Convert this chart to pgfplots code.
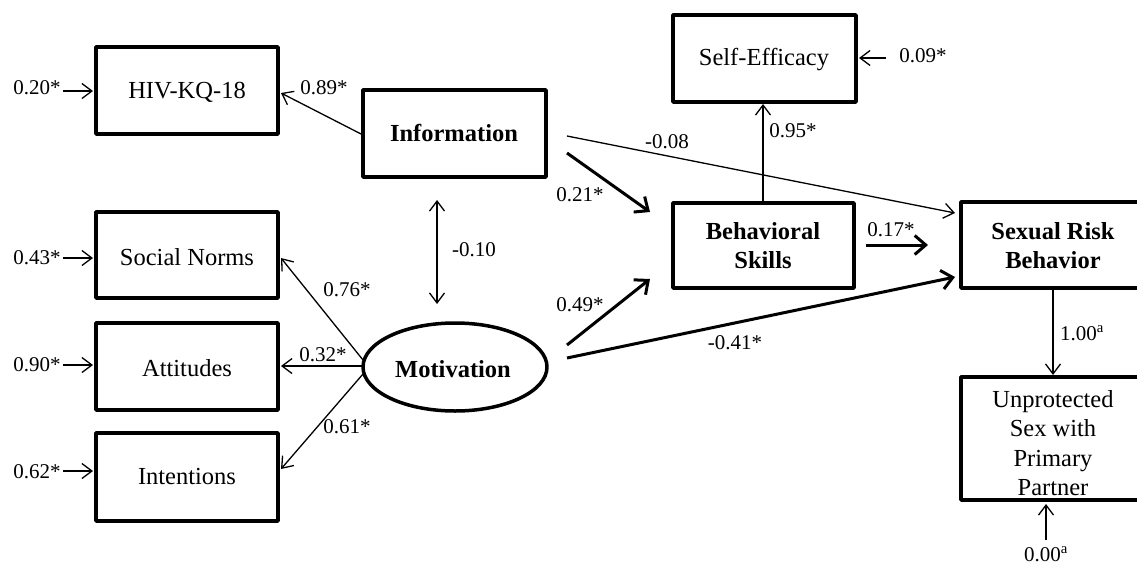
\documentclass[border=0pt]{standalone}
\usepackage{fontspec}
\setmainfont{Liberation Serif}
\usepackage{pgfplots}
\pgfplotsset{compat=1.18}
\usetikzlibrary{arrows.meta}
\begin{document}
\begin{tikzpicture}[
  bx/.style={line width=3.5pt, line join=round},
  ar/.style={line width=1.3pt,-{Straight Barb[length=10pt,width=15pt]}},
  dar/.style={line width=1.3pt,{Straight Barb[length=10pt,width=15pt]}-{Straight Barb[length=10pt,width=15pt]}},
  tk/.style={line width=3pt,-{Straight Barb[length=11pt,width=19pt]}},
  lab/.style={font=\fontsize{21}{24}\selectfont, inner sep=0pt},
  txt/.style={font=\fontsize{24.5}{29.5}\selectfont, align=center, inner sep=0pt},
  btxt/.style={font=\fontsize{24.5}{29}\selectfont\bfseries, align=center, inner sep=0pt},
]
\begin{axis}[scale only axis, width=1137pt, height=568pt,
  xmin=0, xmax=1137, ymin=0, ymax=568, y dir=reverse, hide axis, clip=true]
% boxes
\draw[bx] (96,47) rectangle (278,134);
\node[txt] at (187,92) {HIV-KQ-18};
\draw[bx] (363,90) rectangle (546,177);
\node[btxt] at (454,133) {Information};
\draw[bx] (96,212) rectangle (278,298);
\node[txt] at (187,257) {Social Norms};
\draw[bx] (96,323) rectangle (278,410);
\node[txt] at (187,368) {Attitudes};
\draw[bx] (96,433) rectangle (278,521);
\node[txt] at (187,477) {Intentions};
\draw[bx] (455,367) ellipse [x radius=92pt, y radius=44pt];
\node[btxt] at (453,369) {Motivation};
\draw[bx] (673,15) rectangle (856,102);
\node[txt] at (764,60) {Self-Efficacy};
\draw[bx] (673,203) rectangle (854,288);
\node[btxt] at (763,246) {Behavioral\\Skills};
\draw[bx] (961,202) rectangle (1150,288);
\node[btxt] at (1053,246) {Sexual Risk\\Behavior};
\draw[bx] (961,377) rectangle (1150,500);
\node[txt] at (1053,443) {Unprotected\\Sex with\\Primary\\Partner};
% error arrows
\draw[ar] (63,91) -- (93,91);   \node[lab] at (37,88) {0.20*};
\draw[ar] (63,258) -- (93,258); \node[lab] at (37,258) {0.43*};
\draw[ar] (63,365) -- (93,365); \node[lab] at (37,365) {0.90*};
\draw[ar] (63,471) -- (93,471); \node[lab] at (37,472) {0.62*};
\draw[ar] (886,58) -- (859,58); \node[lab] at (923,56) {0.09*};
\draw[ar] (1046,540) -- (1046,504); \node[lab] at (1046,554) {0.00\textsuperscript{a}};
% loadings
\draw[ar] (363,135) -- (281,93);  \node[lab] at (324,88) {0.89*};
\draw[ar] (363,360) -- (281,258); \node[lab] at (347,290) {0.76*};
\draw[ar] (363,366) -- (281,366); \node[lab] at (323,355) {0.32*};
\draw[ar] (363,374) -- (281,469); \node[lab] at (347,427) {0.61*};
\draw[dar] (437,200) -- (437,304); \node[lab] at (474,250) {-0.10};
% structural paths
\draw[tk] (567,153) -- (650,212); \node[lab] at (580,195) {0.21*};
\draw[ar] (567,136) -- (955,213); \node[lab] at (667,142) {-0.08};
\draw[tk] (567,345) -- (650,279); \node[lab] at (580,305) {0.49*};
\draw[tk] (567,358) -- (955,277); \node[lab] at (735,343) {-0.41*};
\draw[ar] (763,203) -- (763,104); \node[lab] at (793,131) {0.95*};
\draw[tk] (866,245) -- (928,245); \node[lab] at (891,230) {0.17*};
\draw[ar] (1053,288) -- (1053,375); \node[lab] at (1082,333) {1.00\textsuperscript{a}};
\coordinate (SW) at (rel axis cs:0,0);
\coordinate (NE) at (rel axis cs:1,1);
\end{axis}
\pgfresetboundingbox
\path[use as bounding box] (SW) rectangle (NE);
\end{tikzpicture}
\end{document}
